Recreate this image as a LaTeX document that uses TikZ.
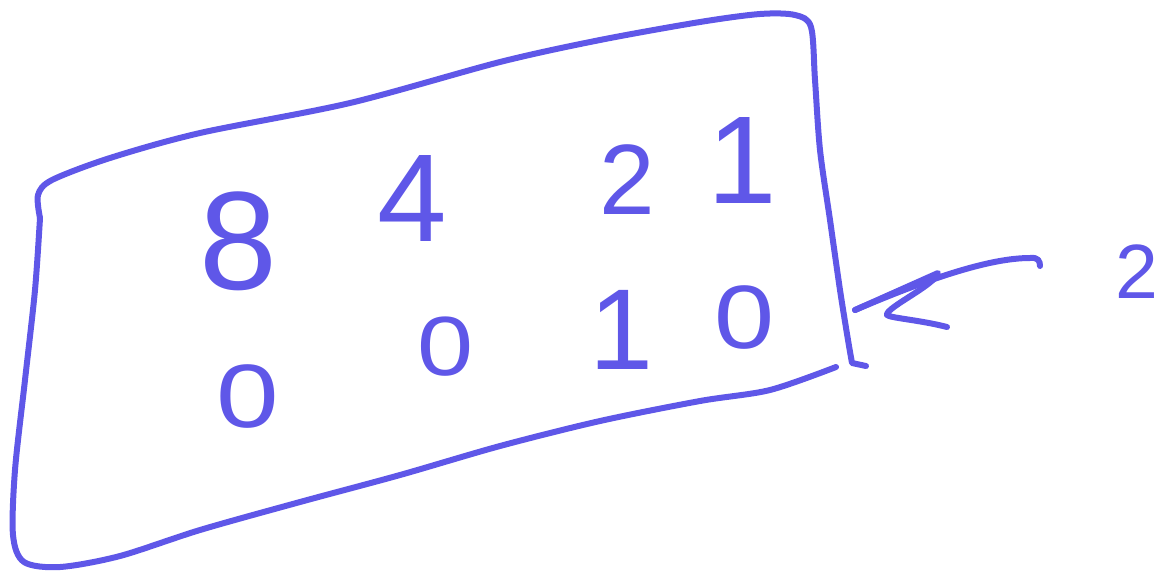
\documentclass[tikz,border=0pt]{standalone}
\usepackage{fontspec}
\setmainfont{Liberation Sans}
\definecolor{ink}{RGB}{95,87,232}
\begin{document}
\begin{tikzpicture}[x=1pt,y=-1pt,
  stroke/.style={draw=ink,line width=6pt,line cap=round,line join=round},
  digit/.style={text=ink,inner sep=0pt,anchor=center}]
\useasboundingbox (0,0) rectangle (1161,571);
% box outline
\draw[stroke] plot[smooth,tension=0.5] coordinates {
  (40,218) (38,195) (52,180) (110,158) (200,133) (350,103) (500,62)
  (600,40) (700,22) (760,14) (795,15) (811,27) (815,80) (820,150)
  (830,220) (840,290) (848,340) (852,363)} -- (866,366);
\draw[stroke] plot[smooth,tension=0.5] coordinates {
  (836,367) (770,390) (700,401) (600,421) (500,446) (400,475) (300,502)
  (200,530) (120,556) (60,567) (24,562) (13,535) (15,470) (25,380)
  (35,290) (40,218)};
% top row
\node[digit,font=\fontsize{140}{140}\selectfont] (n8) at (238,241) {8};
\node[digit,font=\fontsize{125}{125}\selectfont] (n4) at (412,198) {4};
\node[digit,font=\fontsize{100}{100}\selectfont] (n2) at (627,180) {2};
\node[digit,font=\fontsize{125}{125}\selectfont] (n1) at (742,160) {1};
% bottom row
\node[digit,font=\fontsize{90}{90}\selectfont,xscale=1.25] (b8) at (248,397) {0};
\node[digit,font=\fontsize{84}{84}\selectfont,xscale=1.2] (b4) at (446,347) {0};
\node[digit,font=\fontsize{115}{115}\selectfont] (b2) at (621,330) {1};
\node[digit,font=\fontsize{90}{90}\selectfont,xscale=1.2] (b1) at (745,318) {0};
% input label
\node[digit,font=\fontsize{77}{77}\selectfont] (in) at (1137,272) {2};
% arrow
\coordinate (tip) at (855,310);
\coordinate (tail) at (1030,258);
\draw[stroke] (tip) .. controls (930,278) and (990,258) .. (tail)
  .. controls (1038,257) and (1040,261) .. (1040,266);
\draw[stroke] (947,327) .. controls (920,320) and (890,318) .. (887,315)
  .. controls (885,308) and (935,285) .. (938,273) -- (tip);
\end{tikzpicture}
\end{document}
